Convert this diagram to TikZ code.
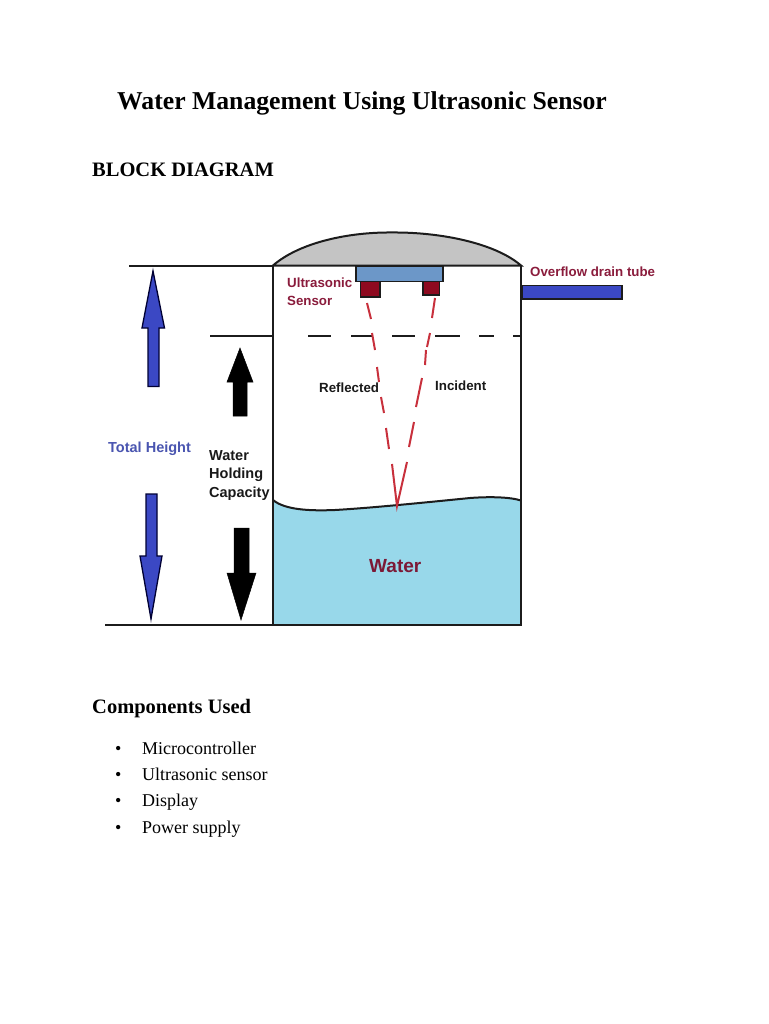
\documentclass[tikz,border=0pt]{standalone}
\usepackage{fontspec}
\setmainfont{Liberation Serif}
\newfontfamily\lsans{Liberation Sans}
\definecolor{arrowblue}{HTML}{3B48C4}
\definecolor{sensorblue}{HTML}{6C97C8}
\definecolor{sensorred}{HTML}{8E0A20}
\definecolor{labelred}{HTML}{8A1C3C}
\definecolor{waterblue}{HTML}{98D8EA}
\definecolor{domegray}{HTML}{C4C4C4}
\definecolor{beamred}{HTML}{C8303C}
\definecolor{labelblue}{HTML}{4A55B0}
\definecolor{linegray}{HTML}{1C1C1C}
\tikzset{
  headtext/.style={anchor=base west,inner sep=0pt,font=\bfseries\fontsize{20.5}{24}\selectfont},
  itemtext/.style={anchor=base west,inner sep=0pt,font=\fontsize{18}{20}\selectfont},
  lab/.style={anchor=base west,inner sep=0pt,font=\lsans\bfseries\fontsize{13.3}{16}\selectfont},
  tankline/.style={draw=linegray,line width=2pt},
  beam/.style={draw=beamred,line width=2pt},
  bluearrow/.style={draw=black!80!blue,line width=1.3pt,fill=arrowblue,line join=miter},
  blackarrow/.style={draw=black,fill=black,line width=0.5pt},
}
\begin{document}
\begin{tikzpicture}[x=1pt,y=-1pt]
\useasboundingbox (0,0) rectangle (768,1024);
\fill[white] (0,0) rectangle (768,1024);
% page text
\node[anchor=base west,inner sep=0pt,font=\bfseries\fontsize{25.7}{30}\selectfont] (title) at (117,109.5) {Water Management Using Ultrasonic Sensor};
\node[headtext] (block) at (92,177) {BLOCK DIAGRAM};
\node[headtext] (comp) at (92,713) {Components Used};
\foreach \n/\y/\t in {a/754/Microcontroller,b/780.5/Ultrasonic sensor,c/806/Display,d/833/Power supply}{
  \node[itemtext] (bul\n) at (115,\y) {•};
  \node[itemtext] (item\n) at (142,\y) {\t};
}
% dome
\path[fill=domegray,draw=linegray,line width=2pt] (273,265.5) .. controls (300,242) and (350,232) .. (392,232.5) .. controls (440,232) and (495,243) .. (521,265.5) -- cycle;
% water
\path[fill=waterblue] (273,500) .. controls (285,510) and (310,511) .. (335,510) .. controls (370,508) and (420,503) .. (470,498) .. controls (490,496.5) and (510,497) .. (521,500.5) -- (521,624) -- (273,624) -- cycle;
\draw[tankline] (273,500) .. controls (285,510) and (310,511) .. (335,510) .. controls (370,508) and (420,503) .. (470,498) .. controls (490,496.5) and (510,497) .. (521,500.5);
% tank
\draw[tankline] (273,265.5) -- (273,624.5) -- (521,624.5) -- (521,265.5);
\draw[tankline] (129,265.5) -- (273,265.5);
\draw[tankline] (105,624.5) -- (273,624.5);
\draw[tankline] (210,336) -- (273,336);
\draw[tankline,dash pattern=on 0pt off 35pt on 23pt off 20pt on 21pt off 20pt on 23pt off 20pt on 25pt off 19pt on 15pt off 19pt on 8pt off 10pt] (273,336) -- (521,336);
% sensor
\draw[draw=linegray,fill=sensorblue,line width=1.8pt] (356,266) rectangle (443,281.5);
\draw[draw=linegray,fill=sensorred,line width=1.5pt] (360.5,281.5) rectangle (380,297);
\draw[draw=linegray,fill=sensorred,line width=1.5pt] (423,281.5) rectangle (439.5,295);
% tube
\draw[draw=linegray,fill=arrowblue,line width=1.8pt] (522,285.5) rectangle (622,299);
% beams
\draw[beam] (367,303) -- (371,319);
\draw[beam] (372,333) -- (375,350);
\draw[beam] (377,367) -- (379,382);
\draw[beam] (381,397) -- (384,413);
\draw[beam] (386,428) -- (389,449);
\draw[beam,line join=miter] (392,464) -- (397,506) -- (407,462);
\draw[beam] (409,447) -- (414,422);
\draw[beam] (416,407) -- (422,378);
\draw[beam] (425,365) -- (426,350);
\draw[beam] (427,347) -- (430,333);
\draw[beam] (432,318) -- (435,298);
% arrows
\draw[bluearrow] (153,271) -- (164.5,328) -- (159,328) -- (159,386.5) -- (148,386.5) -- (148,328) -- (142,328) -- cycle;
\draw[bluearrow] (151,619) -- (162,556) -- (157,556) -- (157,494) -- (146,494) -- (146,556) -- (140,556) -- cycle;
\draw[blackarrow] (240,348) -- (253,382) -- (247,382) -- (247,416) -- (233,416) -- (233,382) -- (227,382) -- cycle;
\draw[blackarrow] (241,620) -- (256,573) -- (249,573) -- (249,528) -- (234,528) -- (234,573) -- (227,573) -- cycle;
% labels
\node[lab,text=labelred] (us1) at (287,287.5) {Ultrasonic};
\node[lab,text=labelred] (us2) at (287,305) {Sensor};
\node[lab,text=labelred] (over) at (530,276) {Overflow drain tube};
\node[lab,text=black!90] (refl) at (319,392.5) {Reflected};
\node[lab,text=black!90] (inc) at (435,390) {Incident};
\node[lab,text=labelblue,font=\lsans\bfseries\fontsize{14.5}{16}\selectfont] (total) at (108,452.5) {Total Height};
\node[lab,text=black!90,font=\lsans\bfseries\fontsize{14.5}{16}\selectfont] (w1) at (209,460) {Water};
\node[lab,text=black!90,font=\lsans\bfseries\fontsize{14.5}{16}\selectfont] (w2) at (209,478.5) {Holding};
\node[lab,text=black!90,font=\lsans\bfseries\fontsize{14.5}{16}\selectfont] (w3) at (209,497) {Capacity};
\node[lab,text=labelred!90!black,font=\lsans\bfseries\fontsize{19}{22}\selectfont] (water) at (369,572.5) {Water};
\end{tikzpicture}
\end{document}
